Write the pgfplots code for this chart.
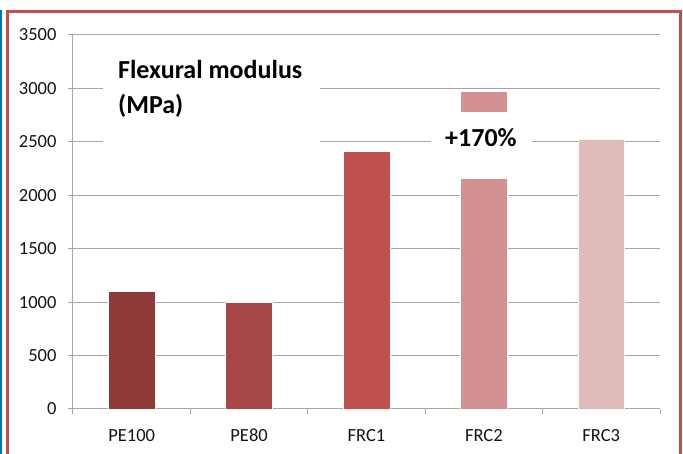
\documentclass[border=0pt]{standalone}
\usepackage{pgfplots}
\pgfplotsset{compat=1.18}
\usepackage{fontspec}
\setmainfont{Carlito}
\definecolor{cA}{RGB}{142,58,57}
\definecolor{cB}{RGB}{167,71,71}
\definecolor{cC}{RGB}{192,80,77}
\definecolor{cD}{RGB}{211,146,145}
\definecolor{cE}{RGB}{224,187,187}
\definecolor{frame}{RGB}{192,80,77}
\definecolor{bluel}{RGB}{0,112,192}
\definecolor{gridc}{RGB}{166,166,166}
\definecolor{txt}{RGB}{20,20,20}
\begin{document}
\begin{tikzpicture}
\useasboundingbox (0,0) rectangle (683pt,454pt);
\clip (0,0) rectangle (683pt,454pt);
\fill[bluel] (0,-5pt) rectangle (2.2pt,444pt);
\draw[line width=3pt, frame] (7.5pt,-10pt) -- (7.5pt,442pt) -- (680.5pt,442pt) -- (680.5pt,-10pt);
\begin{axis}[
  at={(73pt,45pt)}, anchor=south west,
  scale only axis, width=587pt, height=374pt,
  xmin=-0.5, xmax=4.5, ymin=0, ymax=3500,
  ytick distance=500,
  axis lines*=left,
  axis line style={gridc, line width=1pt},
  ymajorgrids, grid style={gridc, line width=1pt},
  xtick={0,1,2,3,4},
  xticklabels={PE100,PE80,FRC1,FRC2,FRC3},
  major x tick style={draw=none},
  minor xtick={-0.5,0.5,1.5,2.5,3.5,4.5},
  minor tick length=5pt,
  minor x tick style={gridc, line width=1pt},
  major tick length=5pt,
  tick align=outside,
  y tick style={gridc, line width=1pt},
  tick label style={font=\fontsize{18.5}{21}\selectfont, text=txt},
  yticklabel style={xshift=-8pt},
  xticklabel style={text height=12pt, text depth=4pt, yshift=-12pt},
  /pgf/number format/assume math mode=true,
  /pgf/number format/1000 sep={},
  ybar, bar width=46.7pt, bar shift=0pt,
  clip=false,
]
\addplot[fill=cA, draw=white, line width=0.6pt] coordinates {(0,1100)};
\addplot[fill=cB, draw=white, line width=0.6pt] coordinates {(1,1000)};
\addplot[fill=cC, draw=white, line width=0.6pt] coordinates {(2,2410)};
\addplot[fill=cD, draw=white, line width=0.6pt] coordinates {(3,2970)};
\addplot[fill=cE, draw=white, line width=0.6pt] coordinates {(4,2525)};
\fill[white] (axis cs:-0.244,2440) rectangle (axis cs:1.604,3330);
\node[anchor=base west, inner sep=0pt, font=\bfseries\fontsize{26}{30}\selectfont, text=black] at (axis cs:-0.117,3090) {Flexural modulus};
\node[anchor=base west, inner sep=0pt, font=\bfseries\fontsize{26}{30}\selectfont, text=black] at (axis cs:-0.117,2770) {(MPa)};
\fill[white] (axis cs:2.549,2152) rectangle (axis cs:3.41,2778);
\node[anchor=base, inner sep=0pt, font=\bfseries\fontsize{26}{30}\selectfont, text=black] at (axis cs:2.975,2454) {+170\%};
\end{axis}
\end{tikzpicture}
\end{document}
